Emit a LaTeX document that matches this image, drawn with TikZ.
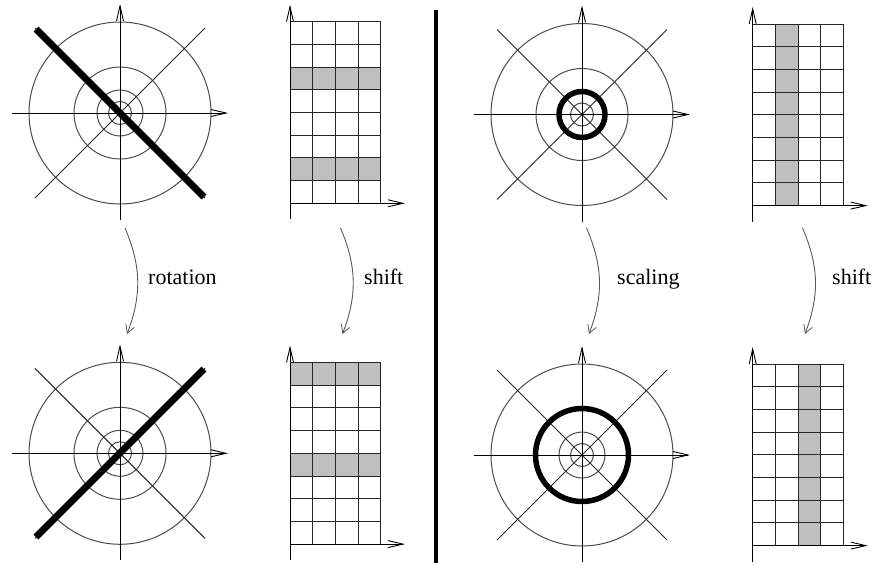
\documentclass[tikz,border=0pt]{standalone}
\usepackage{fontspec}
\setmainfont{Liberation Serif}
\newfontfamily\lblfont{Liberation Serif}
\usetikzlibrary{arrows.meta}
\newcommand\polarplot[2]{%
 \begin{scope}[shift={(#1,#2)}]
 \foreach \r in {11.5,23,46,91}{\draw[ring] (0,0) circle[radius=\r];}
 \draw[spoke] (-85,-85) -- (85,85);
 \draw[spoke] (-85,85) -- (85,-85);
 \draw[axis] (-108,0) -- (108,0);
 \draw[axis] (0,107) -- (0,-109);
 \end{scope}}
\newcommand\gridplot[3]{% x0, ytop, list of shaded cells (col/row)
 \begin{scope}[shift={(#1,#2)}]
 \foreach \cc/\rr in {#3}{\fill[shade] ({(\cc-1)*22.7},{(\rr-1)*22.7}) rectangle ++(22.7,22.7);}
 \foreach \i in {1,...,4}{\draw[cell] ({\i*22.7},0) -- ({\i*22.7},181.6);}
 \foreach \j in {0,...,7}{\draw[cell] (0,{\j*22.7}) -- (90.8,{\j*22.7});}
 \draw[axis] (0,181.6) -- (115,181.6);
 \draw[axis] (0,197.6) -- (0,-17);
 \end{scope}}
\begin{document}
\begin{tikzpicture}[x=1pt,y=-1pt,
 axis/.style={line width=1pt, -{Straight Barb[length=15pt,width=7pt,line width=0.9pt]}},
 ring/.style={line width=1pt, draw=black!70},
 spoke/.style={line width=1pt, draw=black!85},
 bar/.style={line width=7pt},
 thickring/.style={line width=5.5pt},
 cell/.style={draw=black!85, line width=1pt},
 shade/.style={fill=black!25},
 flow/.style={line width=0.9pt, draw=black!65, -{Straight Barb[length=8pt,width=9pt,line width=0.8pt]}},
 lbl/.style={font=\lblfont\fontsize{22}{26}\selectfont, anchor=base west, inner sep=0pt}]
\useasboundingbox (0,0) rectangle (876,565);

% left half
\polarplot{120}{113}
\draw[bar] (36,29) -- (204,197);
\polarplot{120}{453.3}
\draw[bar] (36,537) -- (204,369);
\gridplot{290}{21.7}{1/3,2/3,3/3,4/3,1/7,2/7,3/7,4/7}
\gridplot{290}{362.5}{1/1,2/1,3/1,4/1,1/5,2/5,3/5,4/5}

% separator
\draw[line width=4pt] (435.5,10) -- (435.5,563);

% right half
\polarplot{582}{114.5}
\draw[thickring] (582,114.5) circle[radius=23];
\polarplot{582}{455}
\draw[thickring] (582,455) circle[radius=46.5];
\gridplot{752.7}{24}{2/1,2/2,2/3,2/4,2/5,2/6,2/7,2/8}
\gridplot{752.7}{364}{3/1,3/2,3/3,3/4,3/5,3/6,3/7,3/8}

% connectors
\coordinate (r1) at (125,228); \coordinate (r2) at (127,334);
\coordinate (s1) at (340.5,228); \coordinate (s2) at (342.5,334);
\coordinate (c1) at (586.5,228); \coordinate (c2) at (589,334);
\coordinate (t1) at (802.5,228); \coordinate (t2) at (805,334);
\draw[flow] (r1) to[bend left=22] (r2);
\draw[flow] (s1) to[bend left=22] (s2);
\draw[flow] (c1) to[bend left=22] (c2);
\draw[flow] (t1) to[bend left=22] (t2);

\node[lbl] (rot) at (148,284) {rotation};
\node[lbl] (sha) at (364,284) {shift};
\node[lbl] (sca) at (617,284) {scaling};
\node[lbl] (shb) at (832,284) {shift};
\end{tikzpicture}
\end{document}
